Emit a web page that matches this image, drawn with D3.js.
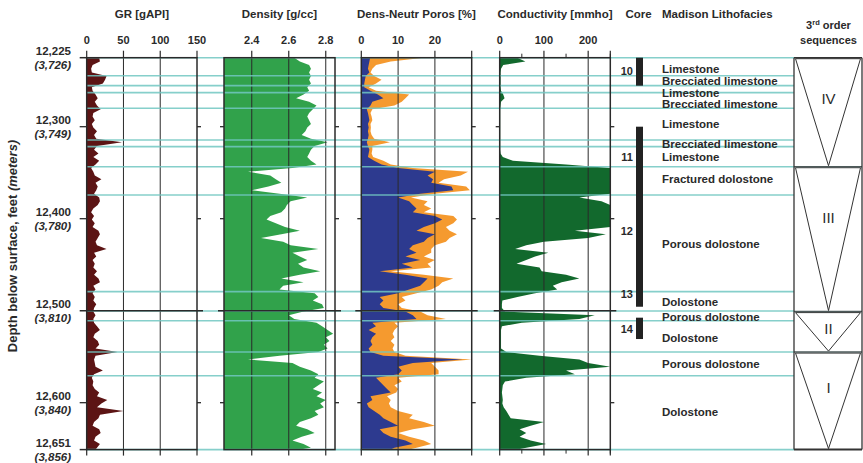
<!DOCTYPE html>
<html><head><meta charset="utf-8">
<script src="https://cdn.jsdelivr.net/npm/d3@7"></script>
<style>
body{margin:0;background:#fff}
svg{display:block}
text{font-family:"Liberation Sans",Arial,Helvetica,sans-serif;fill:#2a2a2a}
</style>
</head><body>
<svg id="c" width="863" height="463"></svg>
<script>
// ---------------- DATA ----------------
// depth samples (ft): 12225 .. 12649 every 4 ft, plus 12651
const depths = d3.range(12225, 12650, 4).concat([12651]);

const gr = [17,18,8,6,7,27,25,22,7,8,12,15,11,14,19,9,8,11,7,9,14,10,13,48,14,10,16,9,17,12,
6,9,11,20,12,15,13,10,17,18,15,9,6,10,7,11,8,16,18,15,12,14,27,10,13,8,11,9,14,10,
16,18,9,12,8,11,9,13,10,9,12,9,10,14,18,11,9,15,17,12,42,12,10,11,12,22,10,7,9,8,
11,17,14,28,20,14,50,18,16,10,8,17,19,12,10,18,14,12];

const rhob = [2.63,2.66,2.71,2.72,2.71,2.72,2.71,2.72,2.70,2.71,2.68,2.64,2.71,2.75,2.73,2.71,2.70,2.71,2.72,2.70,
2.69,2.67,2.72,2.81,2.74,2.72,2.71,2.70,2.72,2.75,2.62,2.38,2.50,2.53,2.56,2.49,2.40,2.55,2.70,2.61,
2.59,2.58,2.56,2.50,2.48,2.53,2.58,2.66,2.56,2.45,2.57,2.61,2.76,2.62,2.66,2.70,2.65,2.68,2.77,2.66,
2.56,2.68,2.57,2.55,2.74,2.76,2.73,2.78,2.79,2.68,2.60,2.63,2.75,2.78,2.81,2.84,2.80,2.82,2.79,2.81,
2.76,2.55,2.38,2.62,2.66,2.72,2.76,2.74,2.79,2.76,2.73,2.78,2.75,2.80,2.77,2.79,2.74,2.76,2.72,2.66,
2.64,2.70,2.74,2.67,2.62,2.68,2.72,2.66];

const phiBlue = [2.4,2.2,2.0,1.8,2.2,1.2,1.0,0.8,0.8,2.5,4.5,6,3,2.5,1.5,1.8,2.0,2.2,1.8,2.0,
1.8,2.0,1.8,1.5,1.8,2.2,2.0,1.8,3.5,5.5,10,20,18,19.5,19,24.5,25,16,10,13,
14,15,14,20,22,20,17,15,20,18,17,14,13,15,12,16,11,14,5,12,
18,17,16,13,10,5,6,5,6,12,14,15,3,4,2,4,3,2.5,3,2,
2.5,6,27.5,14,10,11,10,4,5,6,7,8,2.5,3,1.5,2,3.5,5,6,8,
10,5,6,8,12,14,9,8];

const phiOrange = [17,8,4,3,2.5,3.5,5.5,4,2,4,13,12,11,9,3,2.5,2.8,3,2.5,2.6,
2.5,2.8,3.5,7.8,3,3,2.8,3.2,6,8,14,29,27,22.5,21,28.5,29.5,20,13.5,18,
17,19,17,25,26,25,23,24,26,24,23,20,19,19,17,20,18,19,8,17,
25,22,21,19,15,11,12,10,11,16,18,23,9,10,9,8.5,9,8,9,8.5,
9,12,30,19,20,21,21,10,11,9,10,9.5,7,8,7.5,8,10,14,13,17,
20,14,10,13,17,19,15,13];

const cond = [40,58,8,3,2,2,2,2,2,3,8,11,3,2,1,1,1,1,1,1,
1,1,1,1,1,1,2,7,30,150,250,250,250,250,250,250,250,250,180,230,
250,250,250,250,250,250,250,170,240,200,100,60,35,110,80,60,38,90,95,150,
180,140,120,130,80,40,6,5,5,12,215,180,50,5,3,3,3,3,3,3,
15,90,180,200,250,150,170,60,12,7,6,5,6,7,6,9,15,20,25,100,
70,45,60,45,70,105,60,40];

// facies boundaries (ft)
const faciesBounds = [12225,12244.6,12255.4,12263,12280,12314.5,12321.7,12343.5,12374.2,12479.3,12500.3,12510.9,12544.9,12570.7,12651];
const faciesNames = ["Limestone","Brecciated limestone","Limestone","Brecciated limestone","Limestone",
"Brecciated limestone","Limestone","Fractured dolostone","Porous dolostone","Dolostone",
"Porous dolostone","Dolostone","Porous dolostone","Dolostone"];
const faciesLabelDepth = [12237.3,12250.3,12263.4,12275.3,12297,12318.8,12332.6,12356.8,12427.5,12490.2,12506.5,12529.7,12557.9,12610.1];

const coreTops = [12225,12300,12507.6];
const coreBases = [12255.4,12495.7,12530.8];
const coreNums = ["10","11","12","13","14"];
const coreNumDepth = [12239.5,12332.6,12413,12481.8,12519.6];

const seqNames = ["IV","III","II","I"];
const seqTops = [12225,12343.5,12501,12545];
const seqBases = [12343.5,12501,12545,12651];
const seqLabelDepth = [12270,12399,12520,12584];

const depthTicks = [12225,12300,12400,12500,12600,12651];
const depthLabels = ["12,225","12,300","12,400","12,500","12,600","12,651"];
const meterLabels = ["(3,726)","(3,749)","(3,780)","(3,810)","(3,840)","(3,856)"];

const grTicks = [0,50,100,150];
const rhobTicks = [2.4,2.6,2.8];
const phiTicks = [0,10,20,30];
const condTicks = [0,100,200];
const condMinor = [50,150,250];

// ---------------- DRAWING ----------------
const svg = d3.select("#c");
const y = d3.scaleLinear().domain([12225,12651]).range([57.7,449.6]);
const yTop = y(12225), yBot = y(12651);

const xGR = d3.scaleLinear().domain([0,150]).range([86.7,197]).clamp(true);
const xRho = d3.scaleLinear().domain([2.25,2.85]).range([224,335]).clamp(true);
const xPhi = d3.scaleLinear().domain([0,30]).range([361.3,471.7]).clamp(true);
const xCond = d3.scaleLinear().domain([0,250]).range([499.7,610.3]).clamp(true);

function area(x, vals, base){
  return d3.area()
    .y((d,i)=>y(depths[i]))
    .x0(()=>x(base))
    .x1((d)=>x(d))
    .curve(d3.curveLinear)(vals);
}

const gFill = svg.append("g");
gFill.append("path").attr("d", area(xGR, gr, 0)).attr("fill","#5c1414");
gFill.append("path").attr("d", area(xRho, rhob, 2.25)).attr("fill","#31a24b");
gFill.append("path").attr("d", area(xPhi, phiOrange, 0)).attr("fill","#f59a2f");
gFill.append("path").attr("d", area(xPhi, phiBlue, 0)).attr("fill","#2d3a8f");
gFill.append("path").attr("d", area(xCond, cond, 0)).attr("fill","#12692d");

// track definitions
const tracks = [
  {x:xGR, title:"GR [gAPI]", ticks:grTicks, labels:grTicks.map(String), grid:[50,100], minor:[], labelTicks:grTicks},
  {x:xRho, title:"Density [g/cc]", ticks:rhobTicks, labels:["2.4","2.6","2.8"], grid:rhobTicks, minor:[], labelTicks:rhobTicks},
  {x:xPhi, title:"Dens-Neutr Poros [%]", ticks:phiTicks, labels:["0","10","20"], grid:[10,20], minor:[], labelTicks:[0,10,20]},
  {x:xCond, title:"Conductivity [mmho]", ticks:condTicks.concat([250]), labels:["0","100","200"], grid:[100,200], minor:condMinor, labelTicks:condTicks}
];

const gGrid = svg.append("g");
tracks.forEach(t=>{
  t.grid.forEach(v=>{
    gGrid.append("line").attr("x1",t.x(v)).attr("x2",t.x(v)).attr("y1",yTop).attr("y2",yBot)
      .attr("stroke","#2a2a2a").attr("stroke-width",1);
  });
});

// teal facies lines
const gTeal = svg.append("g");
faciesBounds.forEach(d=>{
  gTeal.append("line").attr("x1",86.7).attr("x2",794).attr("y1",y(d)).attr("y2",y(d))
    .attr("stroke","#72c7c2").attr("stroke-width",1.6).attr("opacity",0.85);
});

// track frames, ticks, labels
const gAx = svg.append("g").attr("stroke","#2a2a2a");
tracks.forEach((t,ti)=>{
  const [x0,x1] = t.x.range();
  gAx.append("rect").attr("x",x0).attr("y",yTop).attr("width",x1-x0).attr("height",yBot-yTop)
    .attr("fill","none").attr("stroke-width",1.5);
  t.ticks.forEach(v=>{
    const xx = t.x(v);
    gAx.append("line").attr("x1",xx).attr("x2",xx).attr("y1",yTop-7).attr("y2",yTop).attr("stroke-width",1.2);
    gAx.append("line").attr("x1",xx).attr("x2",xx).attr("y1",yBot).attr("y2",yBot+6).attr("stroke-width",1.2);
  });
  t.minor.forEach(v=>{
    const xx = t.x(v);
    gAx.append("line").attr("x1",xx).attr("x2",xx).attr("y1",yTop-4).attr("y2",yTop).attr("stroke-width",1);
    gAx.append("line").attr("x1",xx).attr("x2",xx).attr("y1",yBot).attr("y2",yBot+4).attr("stroke-width",1);
  });
  t.labelTicks.forEach((v,i)=>{
    svg.append("text").attr("x",t.x(v)).attr("y",43.5).attr("text-anchor","middle")
      .attr("font-size","11px").attr("font-weight","bold").text(t.labels[i]);
  });
  svg.append("text").attr("x",(x0+x1)/2).attr("y",18).attr("text-anchor","middle")
    .attr("font-size","11.5px").attr("font-weight","bold").text(t.title);
  [12300,12400,12600].forEach(d=>{
    const L = ti===0 ? 7 : 4;
    gAx.append("line").attr("x1",x0-L).attr("x2",x0).attr("y1",y(d)).attr("y2",y(d)).attr("stroke-width",1.3);
    gAx.append("line").attr("x1",x1).attr("x2",x1+4).attr("y1",y(d)).attr("y2",y(d)).attr("stroke-width",1.3);
  });
  gAx.append("line").attr("x1",x0-(ti===0?7:6)).attr("x2",x1+6).attr("y1",y(12500)).attr("y2",y(12500)).attr("stroke-width",1.6);
});
[12225,12651].forEach(d=>{
  gAx.append("line").attr("x1",79.7).attr("x2",86.7).attr("y1",y(d)).attr("y2",y(d)).attr("stroke-width",1.5);
});

// depth labels
depthTicks.forEach((d,i)=>{
  svg.append("text").attr("x",71).attr("y",y(d)-2.5).attr("text-anchor","end")
    .attr("font-size","11.5px").attr("font-weight","bold").text(depthLabels[i]);
  svg.append("text").attr("x",71).attr("y",y(d)+11.5).attr("text-anchor","end")
    .attr("font-size","11.5px").attr("font-weight","bold").attr("font-style","italic").text(meterLabels[i]);
});

// y-axis title
const yt = svg.append("text").attr("transform","translate(17,246) rotate(-90)").attr("text-anchor","middle")
  .attr("font-size","13px").attr("font-weight","bold");
yt.append("tspan").text("Depth below surface, feet ");
yt.append("tspan").attr("font-style","italic").text("(meters)");

// Core column
svg.append("text").attr("x",638.5).attr("y",18).attr("text-anchor","middle")
  .attr("font-size","11.5px").attr("font-weight","bold").text("Core");
coreTops.forEach((t,i)=>{
  svg.append("rect").attr("x",636).attr("y",y(t)).attr("width",7).attr("height",y(coreBases[i])-y(t)).attr("fill","#222");
});
coreNums.forEach((n,i)=>{
  svg.append("text").attr("x",633).attr("y",y(coreNumDepth[i])).attr("dy","0.36em").attr("text-anchor","end")
    .attr("font-size","11px").attr("font-weight","bold").text(n);
});

// Lithofacies
svg.append("text").attr("x",662).attr("y",18).attr("font-size","11.5px").attr("font-weight","bold").text("Madison Lithofacies");
faciesNames.forEach((n,i)=>{
  svg.append("text").attr("x",662).attr("y",y(faciesLabelDepth[i])).attr("dy","0.36em")
    .attr("font-size","11.5px").attr("font-weight","bold").text(n);
});

// Sequence column
const sx0 = 794, sx1 = 862, smid = 828.5;
const st = svg.append("text").attr("x",smid).attr("y",29).attr("text-anchor","middle")
  .attr("font-size","11px").attr("font-weight","bold");
st.append("tspan").text("3");
st.append("tspan").attr("dy",-4).attr("font-size","7.5px").text("rd");
st.append("tspan").attr("dy",4).text(" order");
svg.append("text").attr("x",smid).attr("y",43.5).attr("text-anchor","middle")
  .attr("font-size","11px").attr("font-weight","bold").text("sequences");

const gSeq = svg.append("g");
seqTops.forEach((t,i)=>{
  const yt0 = y(t), yb = y(seqBases[i]);
  gSeq.append("path").attr("d",`M${sx0+1.5},${yt0+1}L${sx1-1.5},${yt0+1}L${smid},${yb-1}Z`)
    .attr("fill","none").attr("stroke","#333").attr("stroke-width",1);
  if(i>0) gSeq.append("line").attr("x1",sx0).attr("x2",sx1).attr("y1",yt0).attr("y2",yt0)
    .attr("stroke","#4d5a5a").attr("stroke-width",1.5);
  svg.append("text").attr("x",smid).attr("y",y(seqLabelDepth[i])).attr("dy","0.36em").attr("text-anchor","middle")
    .attr("font-size","15px").attr("fill","#333").text(seqNames[i]);
});
gSeq.append("line").attr("x1",sx0).attr("x2",sx0).attr("y1",yTop).attr("y2",yBot).attr("stroke","#333").attr("stroke-width",1.3);
gSeq.append("line").attr("x1",sx1).attr("x2",sx1).attr("y1",yTop).attr("y2",yBot).attr("stroke","#333").attr("stroke-width",1.3);
gSeq.append("line").attr("x1",sx0).attr("x2",sx1).attr("y1",yTop).attr("y2",yTop).attr("stroke","#333").attr("stroke-width",1.5);
gSeq.append("line").attr("x1",sx0).attr("x2",sx1).attr("y1",yBot).attr("y2",yBot).attr("stroke","#333").attr("stroke-width",2);
</script>
</body></html>
